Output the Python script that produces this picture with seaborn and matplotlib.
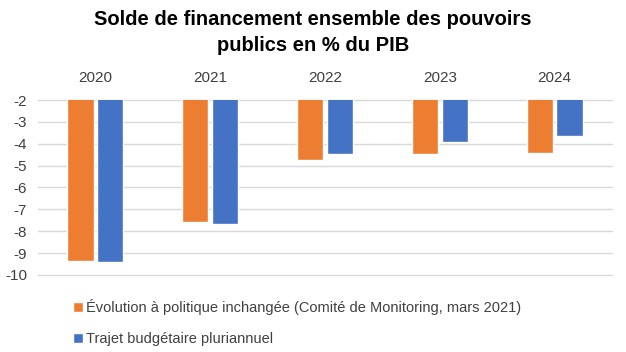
import matplotlib
matplotlib.use('Agg')
import matplotlib.pyplot as plt
import seaborn as sns
import pandas as pd

years = ['2020', '2021', '2022', '2023', '2024']
evolution = [-9.34, -7.60, -4.73, -4.45, -4.41]
trajet = [-9.40, -7.69, -4.45, -3.90, -3.63]
series_names = ['Évolution à politique inchangée (Comité de Monitoring, mars 2021)',
                'Trajet budgétaire pluriannuel']
yticks = [-2, -3, -4, -5, -6, -7, -8, -9, -10]

df = pd.DataFrame({
    'Année': years * 2,
    'Solde': evolution + trajet,
    'Série': [series_names[0]] * 5 + [series_names[1]] * 5,
})

sns.set_style('white')
plt.rcParams['font.family'] = ['Liberation Sans', 'DejaVu Sans']

fig = plt.figure(figsize=(6.26, 3.52), dpi=100)
ax = fig.add_axes([38 / 626, 1 - 275 / 352, (612 - 38) / 626, 175 / 352])

palette = ['#ED7D31', '#4472C4']
sns.barplot(data=df, x='Année', y='Solde', hue='Série', palette=palette,
            width=0.52, gap=0.12, saturation=1, legend=True, ax=ax, zorder=3)

ax.set_ylim(-10, -2)
ax.set_yticks(yticks)
ax.set_yticklabels([str(t) for t in yticks], fontsize=11, color='#404040')
ax.yaxis.grid(True, color='#d9d9d9', linewidth=1, zorder=0)
for gl in ax.get_ygridlines():
    gl.set_clip_on(False)
ax.set_axisbelow(True)
ax.xaxis.tick_top()
ax.tick_params(axis='x', length=0, labelsize=11, labelcolor='#404040', pad=11)
ax.tick_params(axis='y', length=0, pad=8)
ax.set_xlabel('')
ax.set_ylabel('')
for s in ax.spines.values():
    s.set_visible(False)

handles, labels = ax.get_legend_handles_labels()
ax.get_legend().remove()
fig.legend(handles, labels, loc='upper left', bbox_to_anchor=(60 / 626, 1 - 286 / 352),
           frameon=False, fontsize=10.5, handlelength=0.7, handleheight=0.7,
           handletextpad=0.15, labelspacing=1.15, labelcolor='#404040')

fig.text(0.5, 1 - 10 / 352, 'Solde de financement ensemble des pouvoirs\npublics en % du PIB',
         ha='center', va='top', fontsize=14.5, fontweight='bold', color='black',
         linespacing=1.45)

fig.savefig('out.png', dpi=100)
